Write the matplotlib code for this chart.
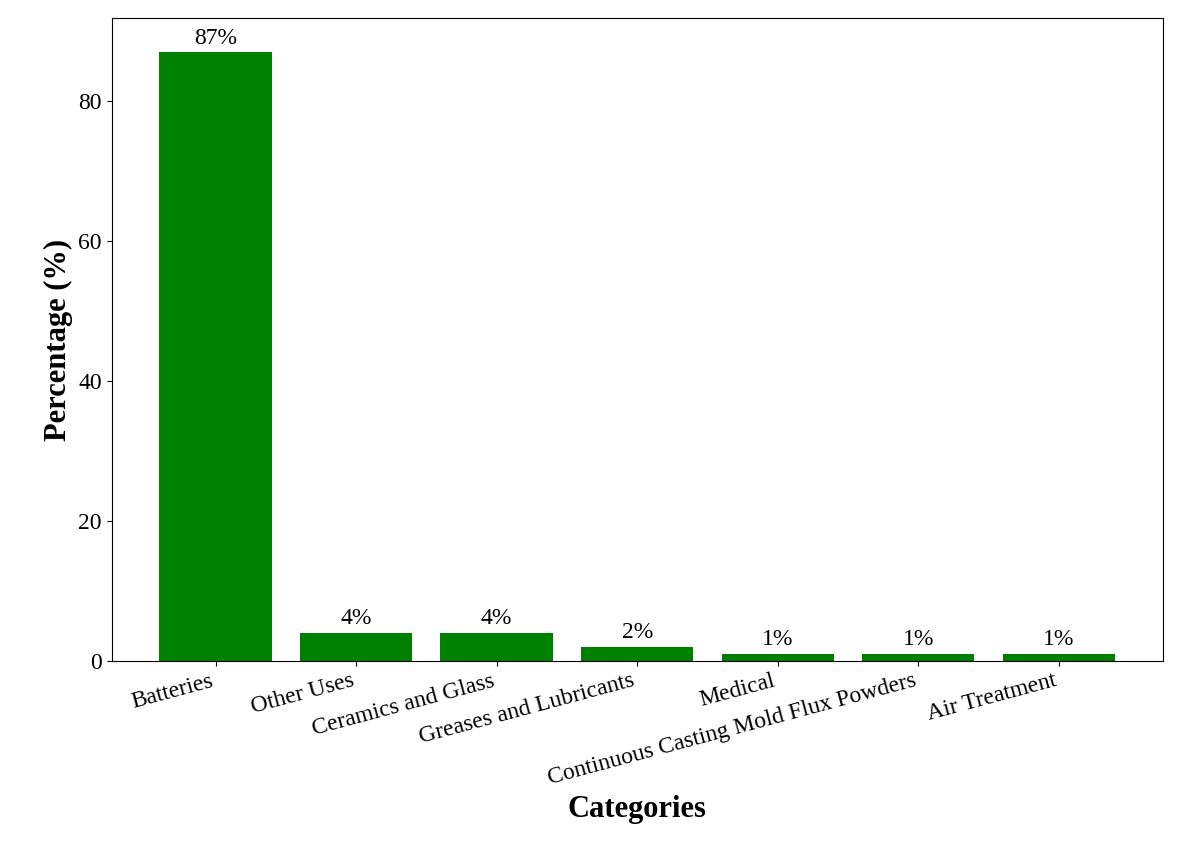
import matplotlib
matplotlib.use("Agg")
import matplotlib.pyplot as plt

categories = ["Batteries", "Other Uses", "Ceramics and Glass", "Greases and Lubricants",
              "Medical", "Continuous Casting Mold Flux Powders", "Air Treatment"]
values = [87, 4, 4, 2, 1, 1, 1]

plt.rcParams['font.family'] = ['Liberation Serif', 'DejaVu Serif']
fig = plt.figure(figsize=(12, 8.65), dpi=100)
ax = fig.add_axes([0.093, 0.236, 0.876, 0.743])
bars = ax.bar(categories, values, color='green', width=0.8)
for b, v in zip(bars, values):
    ax.text(b.get_x() + b.get_width()/2, v + 0.5, f"{v}%", ha='center', va='bottom', fontsize=17)
ax.set_ylim(0, 91.9)
ax.set_yticks([0, 20, 40, 60, 80])
ax.tick_params(axis='both', labelsize=17)
plt.setp(ax.get_xticklabels(), rotation=15, ha='right')
ax.set_ylabel("Percentage (%)", fontsize=22, fontweight='bold')
ax.set_xlabel("Categories", fontsize=22, fontweight='bold')
fig.savefig("out.png", dpi=100)
